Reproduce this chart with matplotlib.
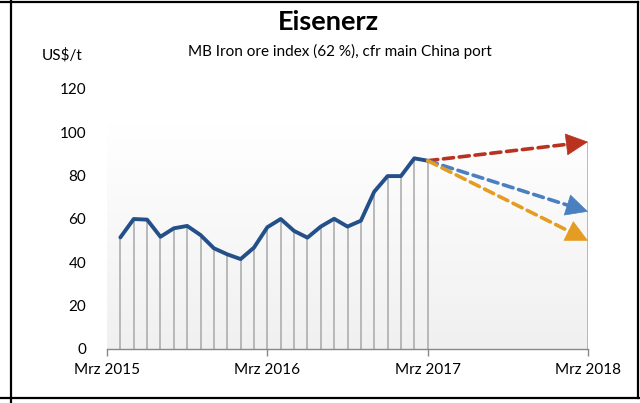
import matplotlib
matplotlib.use('Agg')
import matplotlib.pyplot as plt
from matplotlib.lines import Line2D
import numpy as np

# ---------------------- Data ---------------------- #
# month offsets counted from Mrz 2015
months = list(range(1, 25))  # Apr 2015 .. Mrz 2017
iron_ore = [51.5, 60.0, 59.7, 51.8, 55.7, 56.8, 52.6, 46.5, 43.7, 41.5, 46.8, 56.2,
            60.0, 54.5, 51.4, 56.5, 60.1, 56.5, 59.2, 72.6, 79.8, 79.8, 88.0, 86.9]

# forecast arrows (Mrz 2017 -> Mrz 2018)
forecast_month = 36
forecast_end = {'high': 95.6, 'mid': 63.4, 'low': 50.0}
forecast_colors = {'high': '#b8321f', 'mid': '#4a7fc0', 'low': '#e49c22'}

tick_months = [0, 12, 24, 36]
tick_labels = ['Mrz 2015', 'Mrz 2016', 'Mrz 2017', 'Mrz 2018']
y_ticks = [0, 20, 40, 60, 80, 100, 120]

plt.rcParams['font.family'] = ['Lato', 'DejaVu Sans']

fig = plt.figure(figsize=(6.4, 4.03), dpi=100)
ax = fig.add_axes([107 / 640, 54 / 403, 481 / 640, 260 / 403])

# plot area gradient (white top -> light gray bottom)
grad = np.linspace(0, 1, 256).reshape(-1, 1)
ax.imshow(grad, extent=[0, 36, 0, 104], aspect='auto', origin='upper',
          cmap=matplotlib.colors.LinearSegmentedColormap.from_list('g', ['#ffffff', '#f0f0f0']),
          zorder=0)

# drop lines
ax.vlines(months, 0, iron_ore, color='#a8a8a8', lw=1.1, zorder=1)
ax.vlines(forecast_month, 0, max(forecast_end.values()), color='#a8a8a8', lw=1.1, zorder=1)

# main series
ax.plot(months, iron_ore, color='#24508a', lw=2.8, solid_joinstyle='round',
        solid_capstyle='round', zorder=3)

# forecast arrows
x0, y0 = months[-1], iron_ore[-1]
for key, y1 in forecast_end.items():
    c = forecast_colors[key]
    frac = 0.92
    xm = x0 + (forecast_month - x0) * frac
    ym = y0 + (y1 - y0) * frac
    ax.plot([x0, xm], [y0, ym], color=c, lw=2.6, linestyle=(0, (2.8, 1.6)),
            dash_capstyle='round', zorder=4)
    ax.annotate('', xy=(forecast_month, y1), xytext=(xm - (forecast_month - xm) * 0.3, ym - (y1 - ym) * 0.3),
                arrowprops=dict(arrowstyle='-|>,head_length=1.0,head_width=0.5',
                                color=c, lw=0.5, mutation_scale=15, shrinkA=0, shrinkB=0),
                zorder=5)

ax.set_xlim(0, 36)
ax.set_ylim(0, 120)
ax.set_xticks(tick_months)
ax.set_xticklabels(tick_labels, fontsize=11)
ax.set_yticks(y_ticks)
ax.set_yticklabels([str(v) for v in y_ticks], fontsize=11)
ax.tick_params(axis='y', length=0, pad=15)
ax.tick_params(axis='x', length=5, width=1, color='#888888', pad=5)
for s in ['top', 'right', 'left']:
    ax.spines[s].set_visible(False)
ax.spines['bottom'].set_color('#888888')
ax.spines['bottom'].set_linewidth(1)

# texts
fig.text(328 / 640, 1 - 22 / 403, 'Eisenerz', ha='center', va='center',
         fontsize=19.5, fontweight='bold')
fig.text(340 / 640, 1 - 51 / 403, 'MB Iron ore index (62 %), cfr main China port',
         ha='center', va='center', fontsize=11)
fig.text(62 / 640, 1 - 55 / 403, 'US$/t', ha='center', va='center', fontsize=11)

# outer frame
W, H = 640, 403
def fl(xs, ys):
    fig.add_artist(Line2D([x / W for x in xs], [1 - y / H for y in ys],
                          transform=fig.transFigure, color='black', lw=1.6))
fl([10.5, 10.5], [0, 403])
fl([0, 638], [2, 2])
fl([638, 638], [2, 398])
fl([0, 640], [398, 398])

fig.savefig('out.png', dpi=100)
